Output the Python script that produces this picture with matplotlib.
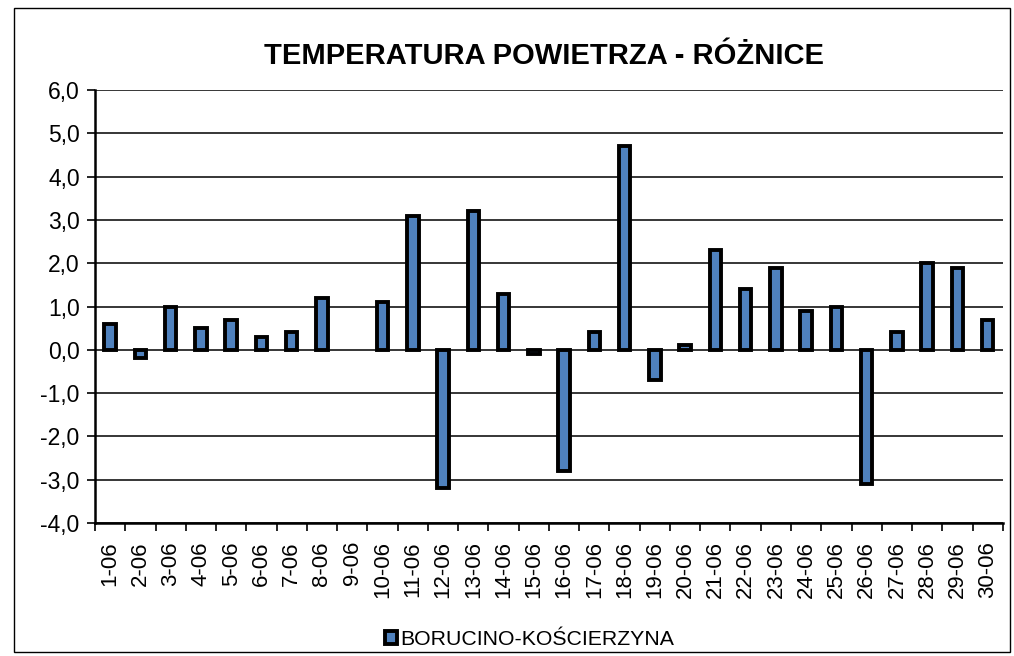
import matplotlib.pyplot as plt
import numpy as np

plt.rcParams['font.family'] = ['Liberation Sans', 'DejaVu Sans']

days = [f'{d}-06' for d in range(1, 31)]
diffs = [0.6, -0.2, 1.0, 0.5, 0.7, 0.3, 0.4, 1.2, 0.0, 1.1,
         3.1, -3.2, 3.2, 1.3, -0.1, -2.8, 0.4, 4.7, -0.7, 0.1,
         2.3, 1.4, 1.9, 0.9, 1.0, -3.1, 0.4, 2.0, 1.9, 0.7]
series_name = 'BORUCINO-KOŚCIERZYNA'
title = 'TEMPERATURA POWIETRZA - RÓŻNICE'


def main():
    fig = plt.figure(figsize=(10.14, 6.56), dpi=100)
    ax = fig.add_axes([0.0937, 0.2027, 0.8953, 0.6601])

    x = np.arange(len(days))
    vals = np.array(diffs)
    shown = vals != 0
    ax.bar(x[shown], vals[shown], width=0.38, color='#4F81BD', edgecolor='black',
           linewidth=2.8, label=series_name, zorder=3)

    ax.set_xlim(-0.5, len(days) - 0.5)
    ax.set_ylim(-4, 6)
    ax.set_yticks(np.arange(-4, 7, 1))
    ax.set_yticklabels([f'{v:.1f}'.replace('.', ',') for v in np.arange(-4, 7, 1)],
                       fontsize=16.5)
    ax.set_xticks(x)
    ax.set_xticklabels(days, rotation=90, fontsize=16)
    ax.set_xticks(np.arange(-0.5, len(days), 1), minor=True)
    ax.tick_params(axis='x', which='major', length=0, pad=13)
    ax.tick_params(axis='x', which='minor', length=6, width=1.2, direction='out')
    ax.tick_params(axis='y', length=6, width=1.2, direction='out', pad=5)

    ax.grid(axis='y', color='black', linewidth=1.1, zorder=0)
    ax.spines['right'].set_visible(False)
    ax.spines['top'].set_visible(False)
    ax.spines['left'].set_linewidth(1.8)
    ax.spines['bottom'].set_linewidth(1.8)

    fig.text(0.536, 0.915, title, ha='center', va='center', fontsize=21,
             fontweight='bold')
    fig.legend(loc='center', bbox_to_anchor=(0.522, 0.025), frameon=False,
               fontsize=15.3, handlelength=0.55, handleheight=0.55, handletextpad=0.15)

    border = plt.Rectangle((0.014, 0.006), 0.982, 0.982, transform=fig.transFigure,
                           fill=False, edgecolor='black', linewidth=1)
    fig.patches.append(border)

    fig.savefig('out.png', dpi=100)


if __name__ == '__main__':
    main()
